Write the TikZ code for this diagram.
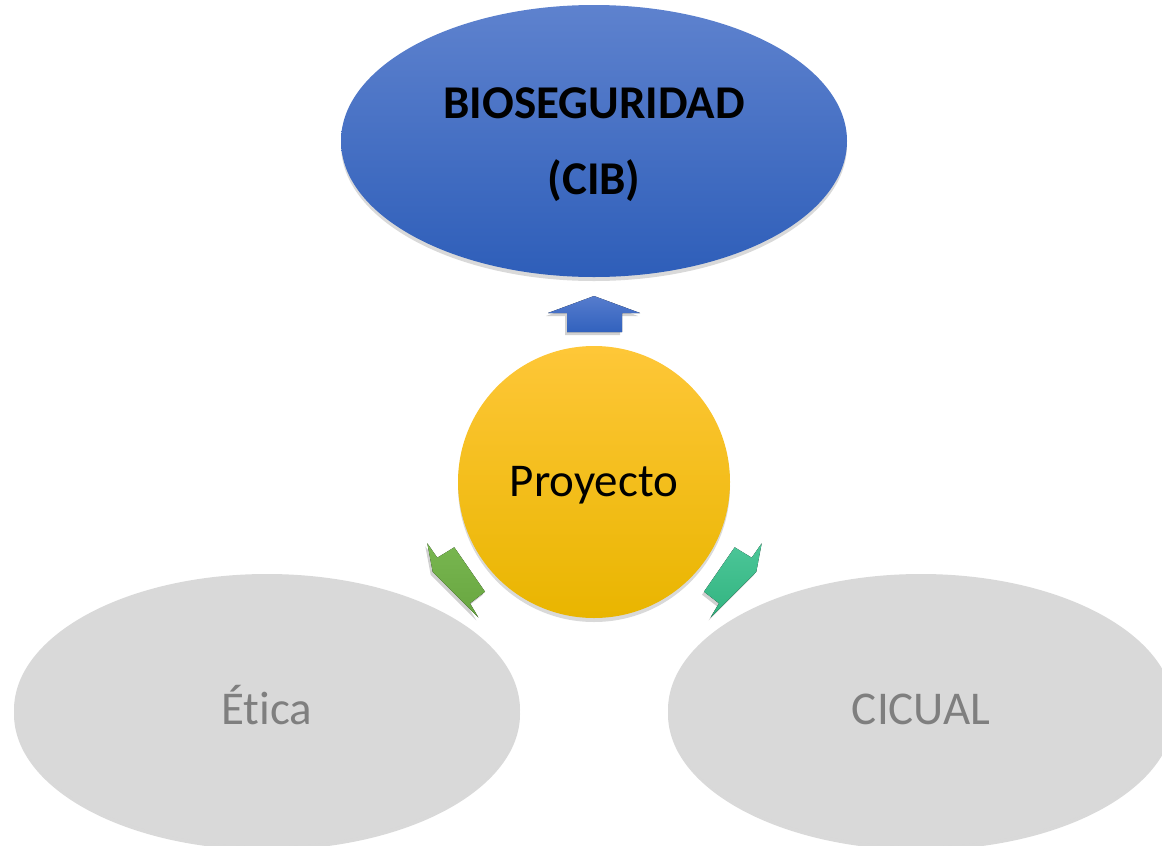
\documentclass[tikz,border=0pt]{standalone}
\usepackage{fontspec}
\setmainfont{Carlito}[Ligatures=NoCommon]
\usetikzlibrary{shapes.geometric,shadows}
\definecolor{blueTop}{RGB}{94,130,206}
\definecolor{blueBot}{RGB}{46,94,185}
\definecolor{yelTop}{RGB}{254,199,56}
\definecolor{yelBot}{RGB}{233,181,0}
\definecolor{grayFill}{RGB}{217,217,217}
\definecolor{grayText}{RGB}{127,127,127}
\definecolor{greenTop}{RGB}{120,182,80}
\definecolor{greenBot}{RGB}{104,166,64}
\definecolor{tealTop}{RGB}{76,198,152}
\definecolor{tealBot}{RGB}{50,180,128}
\definecolor{arrBlueTop}{RGB}{86,124,205}
\definecolor{arrBlueBot}{RGB}{50,98,190}
\tikzset{
  softshadow/.style={drop shadow={shadow xshift=0pt, shadow yshift=-4pt, opacity=0.25, fill=black!60}},
  arrowshadow/.style={drop shadow={shadow xshift=-2pt, shadow yshift=-3pt, opacity=0.3, fill=black!60}},
  bluebox/.style={ellipse, minimum width=506pt, minimum height=272pt, inner sep=0pt,
     top color=blueTop, bottom color=blueBot, softshadow,
     font=\fontsize{47}{76}\selectfont\bfseries, text=black, align=center},
  graybox/.style={ellipse, minimum width=506pt, minimum height=272pt, inner sep=0pt,
     fill=grayFill, softshadow, font=\fontsize{47}{56}\selectfont, text=grayText,
     text height=29.7pt, text depth=0pt},
  centerbox/.style={circle, minimum size=272pt, inner sep=0pt,
     top color=yelTop, bottom color=yelBot, softshadow,
     font=\fontsize{47}{56}\selectfont, text=black, text height=29.7pt, text depth=0pt},
}
\begin{document}
\begin{tikzpicture}[x=1pt,y=-1pt]
\useasboundingbox (0,0) rectangle (1162,846);
\clip (0,0) rectangle (1162,846);
\node[bluebox] (bio) at (594,141) {\rule{0pt}{38.7pt}BIOSEGURIDAD\\(CIB)};
\node[graybox] (etica) at (267,710) {Ética};
\node[graybox] (cicual) at (921,710) {CICUAL};
\node[centerbox] (proy) at (594,482) {Proyecto};
% block arrows
\fill[top color=arrBlueTop, bottom color=arrBlueBot, arrowshadow]
  (594,296) -- (640,313) -- (622,313) -- (622,332) -- (567,332) -- (567,313) -- (548,313) -- cycle;
\fill[top color=greenTop, bottom color=greenBot, arrowshadow]
  (427.3,543.3) -- (437.3,557.7) -- (454.3,547.3) -- (485,591.7) -- (470,603.3) -- (478.3,617.3) -- (432.7,571.7) -- cycle;
\fill[top color=tealTop, bottom color=tealBot, arrowshadow]
  (761.7,543.3) -- (751.7,557.7) -- (734.7,547.3) -- (704,591.7) -- (719,603.3) -- (710.7,617.3) -- (756.3,571.7) -- cycle;
\end{tikzpicture}
\end{document}
